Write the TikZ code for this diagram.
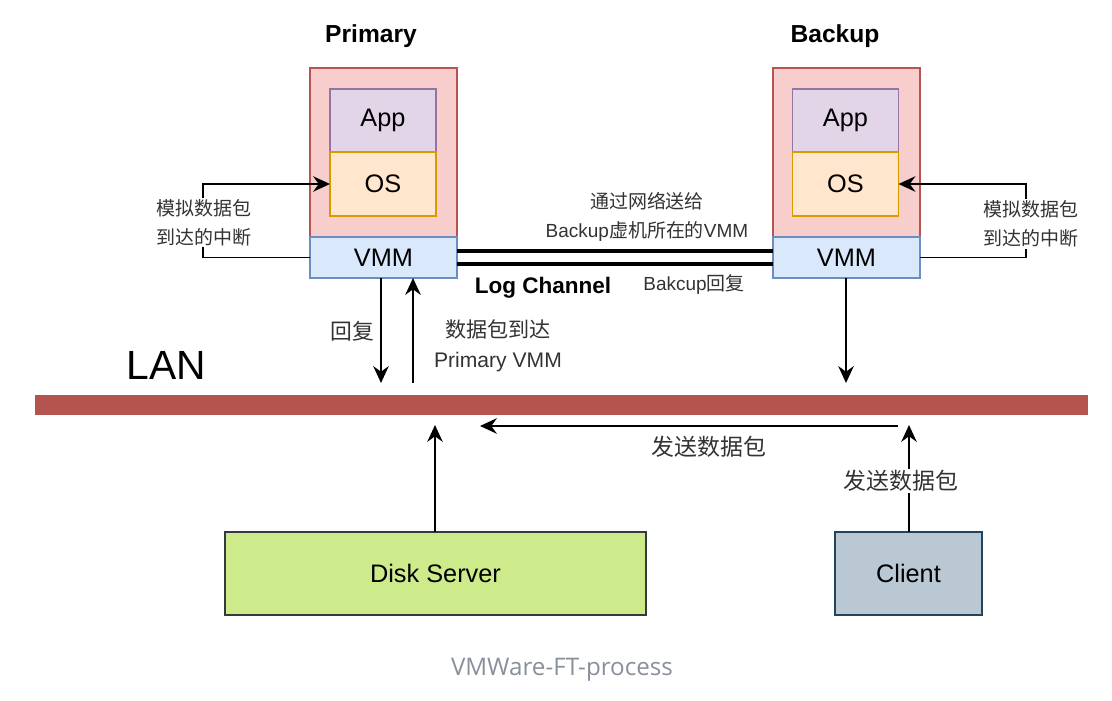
\documentclass[tikz,border=0pt]{standalone}
\usepackage{fontspec}
\setmainfont{Liberation Sans}
\newfontfamily\cjk{Noto Sans CJK SC}
\newfontfamily\capfont{Open Sans}
\usetikzlibrary{positioning, arrows, arrows.meta}
\newlength\pix
\setlength\pix{0.025cm}
\definecolor{vmfill}{HTML}{F8CECC}
\definecolor{vmline}{HTML}{B85450}
\definecolor{appfill}{HTML}{E1D5E7}
\definecolor{appline}{HTML}{9673A6}
\definecolor{osfill}{HTML}{FFE6CC}
\definecolor{osline}{HTML}{D79B00}
\definecolor{vmmfill}{HTML}{DAE8FC}
\definecolor{vmmline}{HTML}{6C8EBF}
\definecolor{lanred}{HTML}{B5544F}
\definecolor{diskfill}{HTML}{CDEB8B}
\definecolor{diskline}{HTML}{36393D}
\definecolor{clientfill}{HTML}{BAC8D3}
\definecolor{clientline}{HTML}{23445D}
\definecolor{capgray}{HTML}{87909B}
\definecolor{notegray}{HTML}{333333}
\tikzset{
    box/.style={ % every rectangle
        draw, rectangle,
        inner sep=0pt, outer sep=0pt,
        line width=0.9pt,
        font=\fontsize{18}{20}\selectfont
    },
    vm/.style={box, fill=vmfill, draw=vmline,
        minimum width=147\pix, minimum height=169\pix},
    vmm/.style={box, fill=vmmfill, draw=vmmline,
        minimum width=147\pix, minimum height=41\pix},
    app/.style={box, fill=appfill, draw=appline,
        minimum width=106\pix, minimum height=63\pix},
    os/.style={box, fill=osfill, draw=osline,
        minimum width=106\pix, minimum height=64\pix},
    title/.style={font=\fontsize{17.5}{20}\selectfont\bfseries},
    note/.style={ % small labels
        align=center, fill=white, inner sep=1pt, text=notegray,
        font=\fontsize{13.5}{20.5}\selectfont
    },
    cjknote/.style={note, font=\cjk\fontsize{13.5}{20.5}\selectfont},
    arr/.style={ % every arrow
        draw, line width=1.4pt,
        -{Stealth[length=12pt, width=11pt, inset=4pt]}
    },
    chan/.style={draw, line width=3.5pt}
}

\begin{document}
\begin{tikzpicture}[x=\pix, y=-\pix]
        \useasboundingbox (0,0) rectangle (1112,701);
        % primary
        \node[title]                            (ptitle)    at (371,36)      {Primary};
        \node[vm]                               (pbox)      at (383.5,152.5) {};
        \node[vmm, below=0pt of pbox]           (pvmm)      {VMM};
        \node[app]                              (papp)      at (383,120.5)   {App};
        \node[os, below=0pt of papp]            (pos)       {OS};
        % backup
        \node[title]                            (btitle)    at (835,36)      {Backup};
        \node[vm]                               (bbox)      at (846.5,152.5) {};
        \node[vmm, below=0pt of bbox]           (bvmm)      {VMM};
        \node[app]                              (bapp)      at (845.5,120.5) {App};
        \node[os, below=0pt of bapp]            (bos)       {OS};
        % lan
        \node[fill=lanred, minimum width=1053\pix, minimum height=20\pix,
              inner sep=0pt]                    (lan)       at (561.5,405)   {};
        \node[font=\fontsize{29}{30}\selectfont] (lantext)  at (166,365)     {LAN};
        % unten
        \node[box, fill=diskfill, draw=diskline,
              minimum width=421\pix, minimum height=83\pix]
                                                (disk)      at (435.5,573.5) {Disk Server};
        \node[box, fill=clientfill, draw=clientline,
              minimum width=147\pix, minimum height=83\pix]
                                                (client)    at (908.5,573.5) {Client};
        \node[font=\capfont\fontsize{17.2}{18}\selectfont, text=capgray]
                                                (caption)   at (562,670)     {VMWare-FT-process};

        % enden der pfeile
        \coordinate (pdn)  at (381,383);
        \coordinate (pup)  at (413,383);
        \coordinate (bdn)  at (846,383);
        \coordinate (dsup) at (435,425);
        \coordinate (clup) at (909,425);
        \coordinate (pkt0) at (898,426);
        \coordinate (pkt)  at (480,426);

        % log channel
        \draw[chan] ([yshift=4.6pt]pvmm.east)  -- ([yshift=4.6pt]bvmm.west);
        \draw[chan] ([yshift=-4.6pt]pvmm.east) -- ([yshift=-4.6pt]bvmm.west);
        \node[title, font=\fontsize{16}{20}\selectfont\bfseries]
                                                (logch)     at (543,288)     {Log Channel};
        \node[note]                             (sendlog)   at (647,217)
              {{\cjk 通过网络送给}\\Backup{\cjk 虚机所在的}VMM};
        \node[note]                             (breply)    at (694,284)     {Bakcup{\cjk 回复}};

        % unterbrechung
        \draw[arr] (pvmm.west) -- ++(-107,0) |- (pos.west);
        \draw[arr] (bvmm.east) -- ++(106,0)  |- (bos.east);
        \node[cjknote]                          (pirq)      at (204,222.5)
              {模拟数据包\\到达的中断};
        \node[cjknote]                          (birq)      at (1031,224)
              {模拟数据包\\到达的中断};

        % vmm und lan
        \draw[arr] (pvmm.south -| pdn) -- (pdn);
        \draw[arr] (pup) -- (pvmm.south -| pup);
        \draw[arr] (bvmm.south -| bdn) -- (bdn);
        \node[note, font=\cjk\fontsize{15.5}{20}\selectfont]
                                                (preply)    at (352,331)     {回复};
        \node[note, font=\fontsize{15}{21}\selectfont]
                                                (parrive)   at (498,346)
              {{\cjk 数据包到达}\\Primary VMM};

        % disk server und client
        \draw[arr] (disk.north -| dsup) -- (dsup);
        \draw[arr] (client.north -| clup) -- (clup);
        \draw[arr] (pkt0) -- (pkt);
        \node[note, font=\cjk\fontsize{16.3}{20}\selectfont]
                                                (csend)     at (901,481)     {发送数据包};
        \node[note, font=\cjk\fontsize{16.3}{20}\selectfont]
                                                (lsend)     at (709,447)     {发送数据包};
\end{tikzpicture}
\end{document}
